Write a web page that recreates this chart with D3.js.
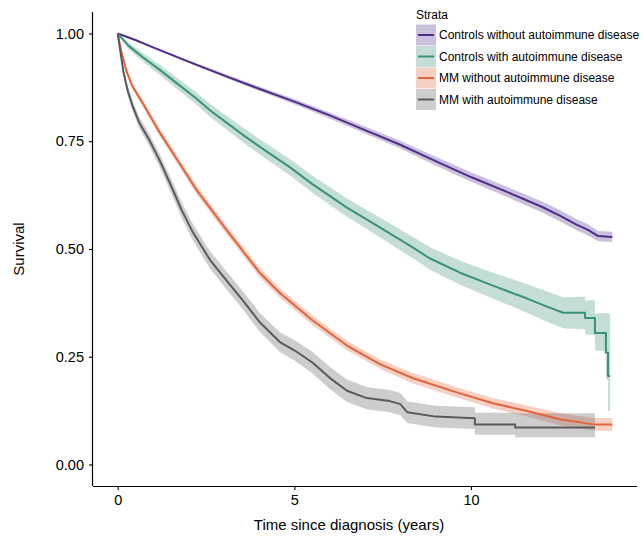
<!DOCTYPE html>
<html><head><meta charset="utf-8">
<script src="https://cdn.jsdelivr.net/npm/d3@7"></script>
<style>body{margin:0;background:#fff}text{font-family:"Liberation Sans",Arial,sans-serif}</style>
</head><body><svg id="c" width="643" height="543"></svg>
<script>
// ---- data ----
const strata = ["Controls without autoimmune disease","Controls with autoimmune disease","MM without autoimmune disease","MM with autoimmune disease"];
const colors = ["#512d8a","#3a9179","#e3643c","#5a5a5e"];
const xTicks = [0,5,10];
const yTicks = [0,0.25,0.5,0.75,1];

const ctrlNoAI_t = [0,0.5,1,2,3,4,5,6,7,8,9,10,11,12,12.5,13,13.3,13.6,14.0];
const ctrlNoAI_s = [1.0,0.985,0.968,0.935,0.903,0.872,0.842,0.810,0.776,0.742,0.704,0.667,0.633,0.598,0.578,0.556,0.545,0.530,0.528];
const ctrlNoAI_lo= [1.0,0.983,0.966,0.932,0.899,0.867,0.836,0.803,0.768,0.733,0.694,0.656,0.621,0.585,0.565,0.543,0.532,0.518,0.516];
const ctrlNoAI_hi= [1.0,0.987,0.970,0.938,0.907,0.877,0.848,0.817,0.784,0.751,0.714,0.678,0.645,0.611,0.591,0.569,0.558,0.542,0.540];

const ctrlAI_t = [0,0.3,0.71,1.2,1.67,2.2,2.61,3.1,3.54,4.2,4.87,5.52,6.49,7.42,8.36,8.84,9.69,10.62,11.59,12.1,12.61,13.23,13.23,13.51,13.51,13.82,13.82,13.88,13.88,13.94];
const ctrlAI_s = [1.0,0.972,0.945,0.915,0.885,0.851,0.822,0.792,0.765,0.727,0.690,0.650,0.596,0.550,0.503,0.478,0.445,0.415,0.385,0.368,0.352,0.352,0.340,0.340,0.305,0.305,0.259,0.259,0.205,0.205];
const ctrlAI_lo= [1.0,0.964,0.935,0.903,0.872,0.837,0.807,0.776,0.748,0.709,0.671,0.630,0.575,0.527,0.478,0.452,0.417,0.385,0.352,0.333,0.316,0.314,0.302,0.300,0.265,0.262,0.200,0.195,0.124,0.124];
const ctrlAI_hi= [1.0,0.980,0.955,0.927,0.898,0.865,0.837,0.808,0.782,0.745,0.709,0.670,0.617,0.573,0.528,0.504,0.473,0.445,0.418,0.403,0.388,0.390,0.380,0.382,0.350,0.352,0.350,0.352,0.350,0.350];

const mmNoAI_t = [0,0.05,0.11,0.25,0.42,0.71,1.19,1.67,2.24,3.09,4.02,4.59,5.52,6.49,7.42,8.36,9.69,10.62,11.59,12.52,13.46,14.0];
const mmNoAI_s = [1.0,0.978,0.956,0.912,0.877,0.838,0.770,0.709,0.636,0.543,0.445,0.398,0.334,0.276,0.233,0.200,0.165,0.142,0.124,0.105,0.093,0.093];
const mmNoAI_lo= [1.0,0.974,0.951,0.906,0.870,0.830,0.761,0.700,0.626,0.533,0.434,0.387,0.323,0.265,0.222,0.188,0.153,0.130,0.111,0.091,0.078,0.078];
const mmNoAI_hi= [1.0,0.982,0.961,0.918,0.884,0.846,0.779,0.718,0.646,0.553,0.456,0.409,0.345,0.287,0.244,0.212,0.177,0.154,0.137,0.119,0.108,0.108];

const mmAI_t = [0,0.04,0.08,0.16,0.28,0.42,0.6,0.9,1.19,1.52,1.8,2.12,2.61,3.1,3.54,4.02,4.59,5.0,5.52,6.0,6.49,7.05,7.7,8.0,8.2,9.0,10.11,10.11,11.25,11.25,13.51];
const mmAI_s = [1.0,0.978,0.956,0.912,0.868,0.832,0.795,0.752,0.705,0.645,0.592,0.540,0.475,0.425,0.381,0.330,0.284,0.265,0.236,0.201,0.171,0.154,0.147,0.140,0.121,0.111,0.107,0.093,0.093,0.086,0.086];
const mmAI_lo= [1.0,0.972,0.949,0.903,0.857,0.820,0.782,0.738,0.690,0.628,0.574,0.521,0.455,0.404,0.360,0.308,0.261,0.241,0.211,0.175,0.145,0.128,0.121,0.114,0.096,0.086,0.082,0.069,0.069,0.063,0.063];
const mmAI_hi= [1.0,0.984,0.963,0.921,0.879,0.844,0.808,0.766,0.720,0.662,0.610,0.559,0.495,0.446,0.402,0.352,0.307,0.289,0.261,0.227,0.197,0.180,0.173,0.166,0.146,0.136,0.133,0.120,0.120,0.119,0.119];

const series = [
  {t:ctrlNoAI_t,s:ctrlNoAI_s,lo:ctrlNoAI_lo,hi:ctrlNoAI_hi},
  {t:ctrlAI_t,s:ctrlAI_s,lo:ctrlAI_lo,hi:ctrlAI_hi},
  {t:mmNoAI_t,s:mmNoAI_s,lo:mmNoAI_lo,hi:mmNoAI_hi},
  {t:mmAI_t,s:mmAI_s,lo:mmAI_lo,hi:mmAI_hi}
];

// ---- layout ----
const svg = d3.select("#c");
const L=93, R=637, T=12, B=486;
const x = d3.scaleLinear().domain([-0.7,14.7]).range([L,R]);
const y = d3.scaleLinear().domain([-0.05,1.05]).range([B,T]);

const g = svg.append("g");
const area = d3.area().x(d=>x(d.t)).y0(d=>y(d.lo)).y1(d=>y(d.hi));
const line = d3.line().x(d=>x(d.t)).y(d=>y(d.s));

series.forEach((sr,i)=>{
  const pts = sr.t.map((t,j)=>({t:t,s:sr.s[j],lo:sr.lo[j],hi:sr.hi[j]}));
  g.append("path").attr("d",area(pts)).attr("fill",colors[i]).attr("fill-opacity",0.3);
});
series.forEach((sr,i)=>{
  const pts = sr.t.map((t,j)=>({t:t,s:sr.s[j]}));
  g.append("path").attr("d",line(pts)).attr("fill","none").attr("stroke",colors[i]).attr("stroke-width",2).attr("stroke-linejoin","round");
});

// axes
const xa = svg.append("g").attr("transform",`translate(0,${B})`)
  .call(d3.axisBottom(x).tickValues(xTicks).tickSize(4).tickPadding(5).tickFormat(d3.format("d")));
const ya = svg.append("g").attr("transform",`translate(${L},0)`)
  .call(d3.axisLeft(y).tickValues(yTicks).tickSize(4).tickPadding(5).tickFormat(d3.format(".2f")));
[xa,ya].forEach(a=>{
  a.select(".domain").attr("stroke","#000").attr("stroke-width",1.2);
  a.selectAll(".tick line").attr("stroke","#000").attr("stroke-width",1.1);
  a.selectAll("text").attr("fill","#000").style("font-size","14.5px").style("font-family","'Liberation Sans',Arial,sans-serif");
});
xa.select(".domain").attr("d",`M${L},0.5H${R}`);
ya.select(".domain").attr("d",`M-0.5,${T}V${B}`);

svg.append("text").attr("x",349).attr("y",530).attr("text-anchor","middle")
  .style("font-size","15px").attr("fill","#000").text("Time since diagnosis (years)");
svg.append("text").attr("transform",`translate(24,249) rotate(-90)`).attr("text-anchor","middle")
  .style("font-size","15px").attr("fill","#000").text("Survival");

// legend
const lg = svg.append("g").attr("transform","translate(415,0)");
lg.append("text").attr("x",1).attr("y",19).style("font-size","12px").attr("fill","#000").text("Strata");
strata.forEach((s,i)=>{
  const cy = 35 + i*21.5;
  lg.append("rect").attr("x",1).attr("y",cy-10.5).attr("width",20).attr("height",21)
    .attr("fill",colors[i]).attr("fill-opacity",0.3);
  lg.append("line").attr("x1",3).attr("x2",19).attr("y1",cy).attr("y2",cy)
    .attr("stroke",colors[i]).attr("stroke-width",2);
  lg.append("text").attr("x",24).attr("y",cy+4).style("font-size","12px").attr("fill","#000").text(s);
});
</script></body></html>
